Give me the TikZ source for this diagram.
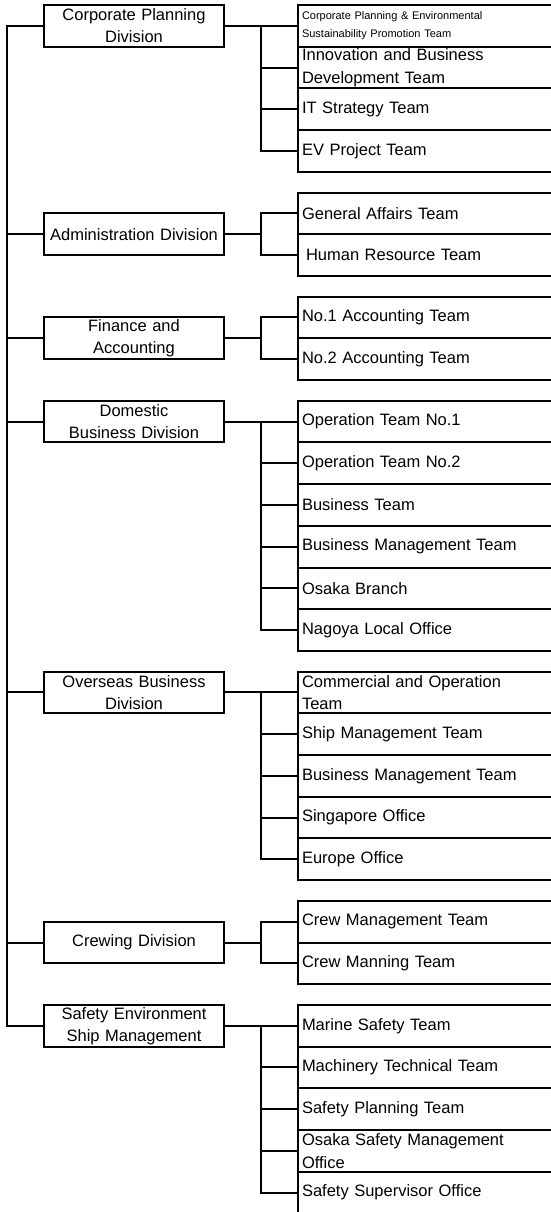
\documentclass[tikz,border=0pt]{standalone}
\usepackage{fontspec}
\setmainfont{Liberation Sans}
\usetikzlibrary{positioning}

\begin{document}
\begin{tikzpicture}[
                    x=1pt, y=1pt,
                    line width=2pt,
                    node distance=20.7pt and 74pt
                ]
                \tikzstyle{division}=[draw,rectangle,minimum width=180pt,minimum height=41.7pt,text width=176pt,inner sep=0pt,outer sep=0pt,align=center,font=\fontsize{16.5}{22}\selectfont]
                \tikzstyle{team}=[draw,rectangle,minimum height=41.7pt,text width=250pt,inner xsep=4pt,inner ysep=0pt,outer sep=0pt,align=left,font=\fontsize{16.5}{22.5}\selectfont]

                \useasboundingbox (0,0) rectangle (551,-1212);
                \clip (0,0) rectangle (551,-1212);

                \coordinate (trunk) at (7,0);
                \coordinate (spine) at (261,0);

                % teams
                \node[team,anchor=north west,font=\fontsize{11}{17.5}\selectfont] (T11) at (298,-5) {Corporate Planning \& Environmental\\Sustainability Promotion Team};
                \node[team] (T12) [below=0pt of T11] {Innovation and Business\\Development Team};
                \node[team] (T13) [below=0pt of T12] {IT Strategy Team};
                \node[team] (T14) [below=0pt of T13] {EV Project Team};

                \node[team] (T21) [below=of T14] {General Affairs Team};
                \node[team] (T22) [below=0pt of T21] {\hspace*{4pt}Human Resource Team};

                \node[team] (T31) [below=of T22] {No.1 Accounting Team};
                \node[team] (T32) [below=0pt of T31] {No.2 Accounting Team};

                \node[team] (T41) [below=of T32] {Operation Team No.1};
                \node[team] (T42) [below=0pt of T41] {Operation Team No.2};
                \node[team] (T43) [below=0pt of T42] {Business Team};
                \node[team] (T44) [below=0pt of T43] {Business Management Team};
                \node[team] (T45) [below=0pt of T44] {Osaka Branch};
                \node[team] (T46) [below=0pt of T45] {Nagoya Local Office};

                \node[team] (T51) [below=of T46] {Commercial and Operation\\Team};
                \node[team] (T52) [below=0pt of T51] {Ship Management Team};
                \node[team] (T53) [below=0pt of T52] {Business Management Team};
                \node[team] (T54) [below=0pt of T53] {Singapore Office};
                \node[team] (T55) [below=0pt of T54] {Europe Office};

                \node[team] (T61) [below=of T55] {Crew Management Team};
                \node[team] (T62) [below=0pt of T61] {Crew Manning Team};

                \node[team] (T71) [below=of T62] {Marine Safety Team};
                \node[team] (T72) [below=0pt of T71] {Machinery Technical Team};
                \node[team] (T73) [below=0pt of T72] {Safety Planning Team};
                \node[team] (T74) [below=0pt of T73] {Osaka Safety Management\\Office};
                \node[team] (T75) [below=0pt of T74] {Safety Supervisor Office};

                % divisions
                \node[division] (D1) [left=of T11] {Corporate Planning\\Division};
                \node[division] (D2) [left=of T21.south west] {Administration Division};
                \node[division] (D3) [left=of T31.south west] {Finance and\\Accounting};
                \node[division] (D4) [left=of T41] {Domestic\\Business Division};
                \node[division] (D5) [left=of T51] {Overseas Business\\Division};
                \node[division] (D6) [left=of T61.south west] {Crewing Division};
                \node[division] (D7) [left=of T71] {Safety Environment\\Ship Management};

                % trunk
                \draw (D1.west) -| (trunk |- D7.west) -- (D7.west);
                \foreach \d in {2,...,6}
                    \draw (D\d.west) -- (trunk |- D\d.west);

                % branches
                \draw (D1.east) -- (T11.west);
                \draw (spine |- T11.west) |- (T14.west);
                \foreach \t in {2,3}
                    \draw (spine |- T1\t.west) -- (T1\t.west);

                \draw (D2.east) -- (spine |- D2.east);
                \draw (T21.west) -| (spine |- T22.west) -- (T22.west);

                \draw (D3.east) -- (spine |- D3.east);
                \draw (T31.west) -| (spine |- T32.west) -- (T32.west);

                \draw (D4.east) -- (T41.west);
                \draw (spine |- T41.west) |- (T46.west);
                \foreach \t in {2,...,5}
                    \draw (spine |- T4\t.west) -- (T4\t.west);

                \draw (D5.east) -- (T51.west);
                \draw (spine |- T51.west) |- (T55.west);
                \foreach \t in {2,3,4}
                    \draw (spine |- T5\t.west) -- (T5\t.west);

                \draw (D6.east) -- (spine |- D6.east);
                \draw (T61.west) -| (spine |- T62.west) -- (T62.west);

                \draw (D7.east) -- (T71.west);
                \draw (spine |- T71.west) |- (T75.west);
                \foreach \t in {2,3,4}
                    \draw (spine |- T7\t.west) -- (T7\t.west);

            \end{tikzpicture}
\end{document}
